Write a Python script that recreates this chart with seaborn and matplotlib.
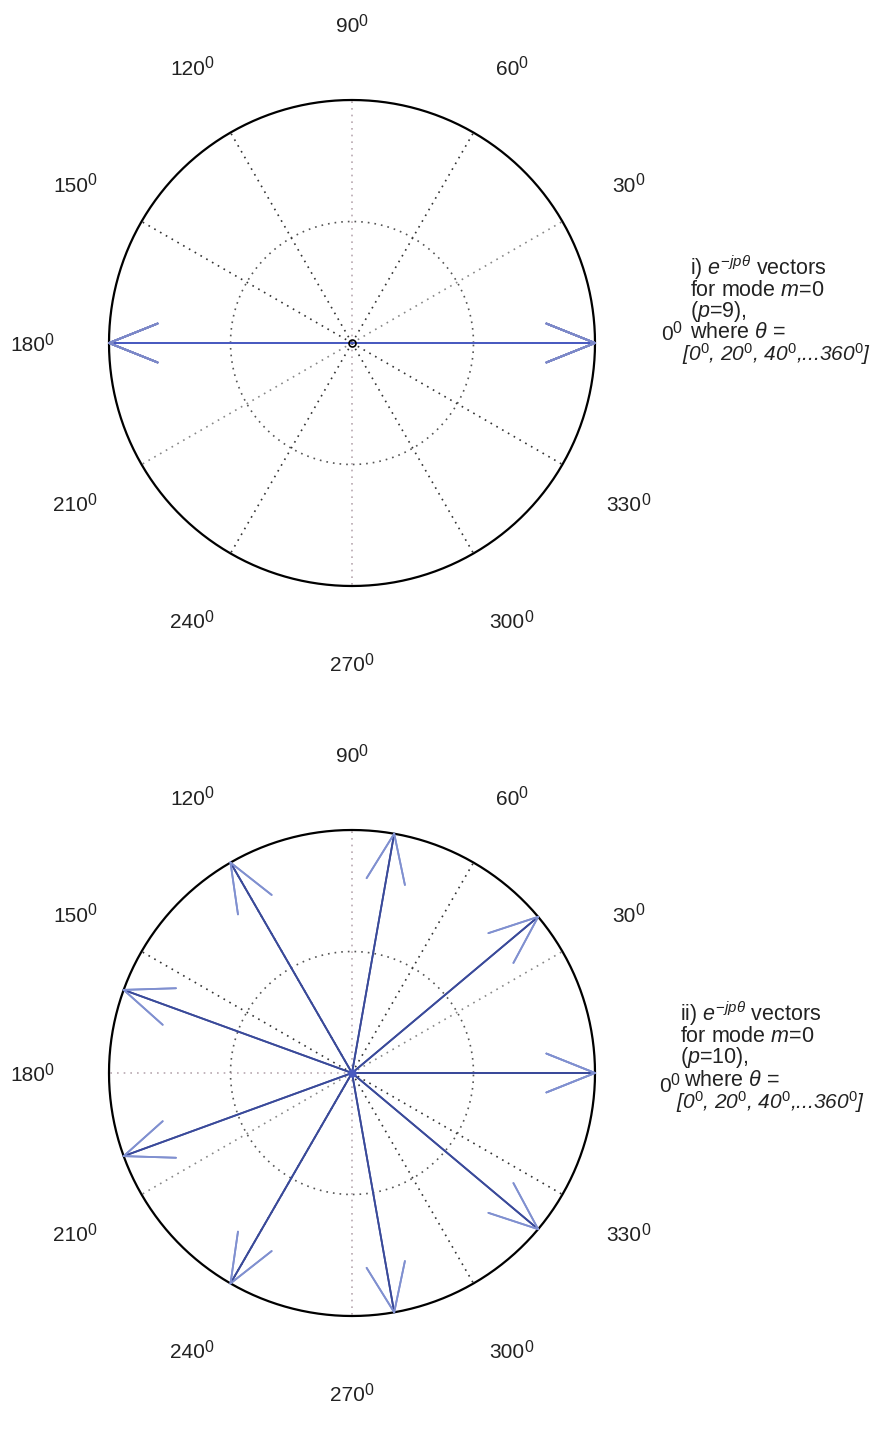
import numpy as np
import pandas as pd
import matplotlib
matplotlib.use("Agg")
import matplotlib.pyplot as plt
import seaborn as sns

# Vector directions (degrees) of e^{-j p theta} for theta = 0, 20, ..., 360
theta_deg = [0, 20, 40, 60, 80, 100, 120, 140, 160, 180,
             200, 220, 240, 260, 280, 300, 320, 340, 360]
angles_p9 = [0, 180, 0, 180, 0, 180, 0, 180, 0, 180,
             0, 180, 0, 180, 0, 180, 0, 180, 0]
angles_p10 = [0, 160, 320, 120, 280, 80, 240, 40, 200, 0,
              160, 320, 120, 280, 80, 240, 40, 200, 0]
magnitudes = [1.0] * len(theta_deg)

spoke_deg = [0, 30, 60, 90, 120, 150, 180, 210, 240, 270, 300, 330]
ring_radii = [0.5]
angle_labels = ["0", "30", "60", "90", "120", "150", "180",
                "210", "240", "270", "300", "330"]

sns.set_style("white")
plt.rcParams["font.family"] = ["Liberation Sans", "DejaVu Sans"]
plt.rcParams["mathtext.fontset"] = "custom"
plt.rcParams["mathtext.rm"] = "Liberation Sans"
plt.rcParams["mathtext.it"] = "Liberation Sans:italic"
plt.rcParams["mathtext.bf"] = "Liberation Sans:bold"
plt.rcParams["mathtext.default"] = "it"

W, H = 883, 1433
R = 243.0  # pixels per unit radius
TXT = "#222222"
fig = plt.figure(figsize=(W / 100, H / 100), dpi=100)


def make_axes(cy, top_px, bot_px):
    ax = fig.add_axes([0, 1 - bot_px / H, 1, (bot_px - top_px) / H])
    cx = 352.0
    ax.set_xlim((0 - cx) / R, (W - cx) / R)
    ax.set_ylim((cy - bot_px) / R, (cy - top_px) / R)
    ax.axis("off")
    return ax


def compass_frame(ax):
    t = np.linspace(0, 2 * np.pi, 721)
    for r in ring_radii:
        ax.plot(r * np.cos(t), r * np.sin(t), ls=(0, (1, 3)), lw=1.2,
                color="#555555", zorder=1)
    for d in spoke_deg:
        a = np.deg2rad(d)
        col = "#b8a8b0" if d in (90, 270, 180) else "#333333"
        if d in (30, 210):
            col = "#888888"
        ax.plot([0, np.cos(a)], [0, np.sin(a)], ls=(0, (1, 3)), lw=1.2,
                color=col, zorder=1)
    ax.plot(np.cos(t), np.sin(t), color="black", lw=1.6, zorder=3)


def degree_label(ax, x, y, lab, size=15, ha="center"):
    # number with a large raised "0" after it
    shift = -4.5 / R if ha == "center" else 0.0
    main = ax.text(x + shift, y, lab, ha=ha, va="center",
                   fontsize=size, color=TXT)
    ax.annotate("0", xy=(1.0, 0.78), xycoords=main, xytext=(-0.6, 0),
                textcoords="offset points", ha="left", va="center",
                fontsize=size * 0.76, color=TXT)


def angle_ticks(ax, zero_pos):
    for d, lab in zip(spoke_deg, angle_labels):
        if d == 0:
            degree_label(ax, zero_pos[0], zero_pos[1], lab, ha="left")
        else:
            a = np.deg2rad(d)
            degree_label(ax, 1.315 * np.cos(a), 1.315 * np.sin(a) - 0.012,
                         lab)


def arrows_frame(angles, mags):
    rows = []
    for i, (ang, m) in enumerate(zip(angles, mags)):
        a = np.deg2rad(ang)
        ca, sa = np.cos(a), np.sin(a)
        # shaft
        rows.append((i, "shaft", 0.0, 0.0, 0))
        rows.append((i, "shaft", m * ca, m * sa, 1))
        # head: tip -> (0.8, +/-0.08) in the vector's own frame
        for k, side in enumerate((0.08, -0.08)):
            hx = m * (0.8 * ca - side * sa)
            hy = m * (0.8 * sa + side * ca)
            rows.append((i * 2 + k + 1000, "head", m * ca, m * sa, 0))
            rows.append((i * 2 + k + 1000, "head", hx, hy, 1))
    return pd.DataFrame(rows, columns=["seg", "part", "x", "y", "order"])


def draw_vectors(ax, angles, mags, shaft_col, head_col):
    df = arrows_frame(angles, mags)
    sns.lineplot(data=df, x="x", y="y", units="seg", hue="part",
                 palette={"shaft": shaft_col, "head": head_col},
                 estimator=None, sort=False, lw=1.3, legend=False,
                 ax=ax, zorder=4)
    ax.set_xlabel("")
    ax.set_ylabel("")


def caption(ax, cy, x_px, y_px, lines):
    for (txt, xo, style, fs), yy in zip(lines, y_px):
        ax.text((x_px + xo - 352) / R, (cy - yy) / R, txt, fontsize=fs,
                ha="left", va="center", color=TXT, style=style)


range_txt = r"[0$^0$, 20$^0$, 40$^0$,...360$^0$]"

# ---- upper compass: p = 9 ----
ax1 = make_axes(343.0, 0, 716)
compass_frame(ax1)
draw_vectors(ax1, angles_p9, magnitudes, "#4a5bc0", "#7c88c8")
ax1.plot([0], [0], marker="o", ms=5, mfc="none", mec="black", mew=1.2,
         zorder=5)
angle_ticks(ax1, ((661 - 352) / R, (343 - 334) / R))
caption(ax1, 343.0, 690,
        [268, 290, 311, 332, 354],
        [(r"i) $e^{-jp\theta}$ vectors", 0, "normal", 15.5),
         (r"for mode $m$=$0$", 0, "normal", 15.5),
         (r"($p$=$9$),", 0, "normal", 15.5),
         (r"where $\theta$ =", 0, "normal", 15.5),
         (range_txt, -8, "italic", 15)])

# ---- lower compass: p = 10 ----
ax2 = make_axes(1073.0, 716, H)
compass_frame(ax2)
draw_vectors(ax2, angles_p10, magnitudes, "#3a4a9a", "#8090d0")
ax2.plot([0], [0], marker="o", ms=5, mfc="#4a5bc0", mec="#4a5bc0",
         zorder=5)
angle_ticks(ax2, ((659 - 352) / R, (1073 - 1086) / R))
caption(ax2, 1073.0, 680,
        [1014, 1036, 1058, 1080, 1102],
        [(r"ii) $e^{-jp\theta}$ vectors", 0, "normal", 15.5),
         (r"for mode $m$=$0$", 0, "normal", 15.5),
         (r"($p$=$10$),", 0, "normal", 15.5),
         (r"where $\theta$ =", 4, "normal", 15.5),
         (range_txt, -4, "italic", 15)])

fig.savefig("out.png", dpi=100, facecolor="white")
